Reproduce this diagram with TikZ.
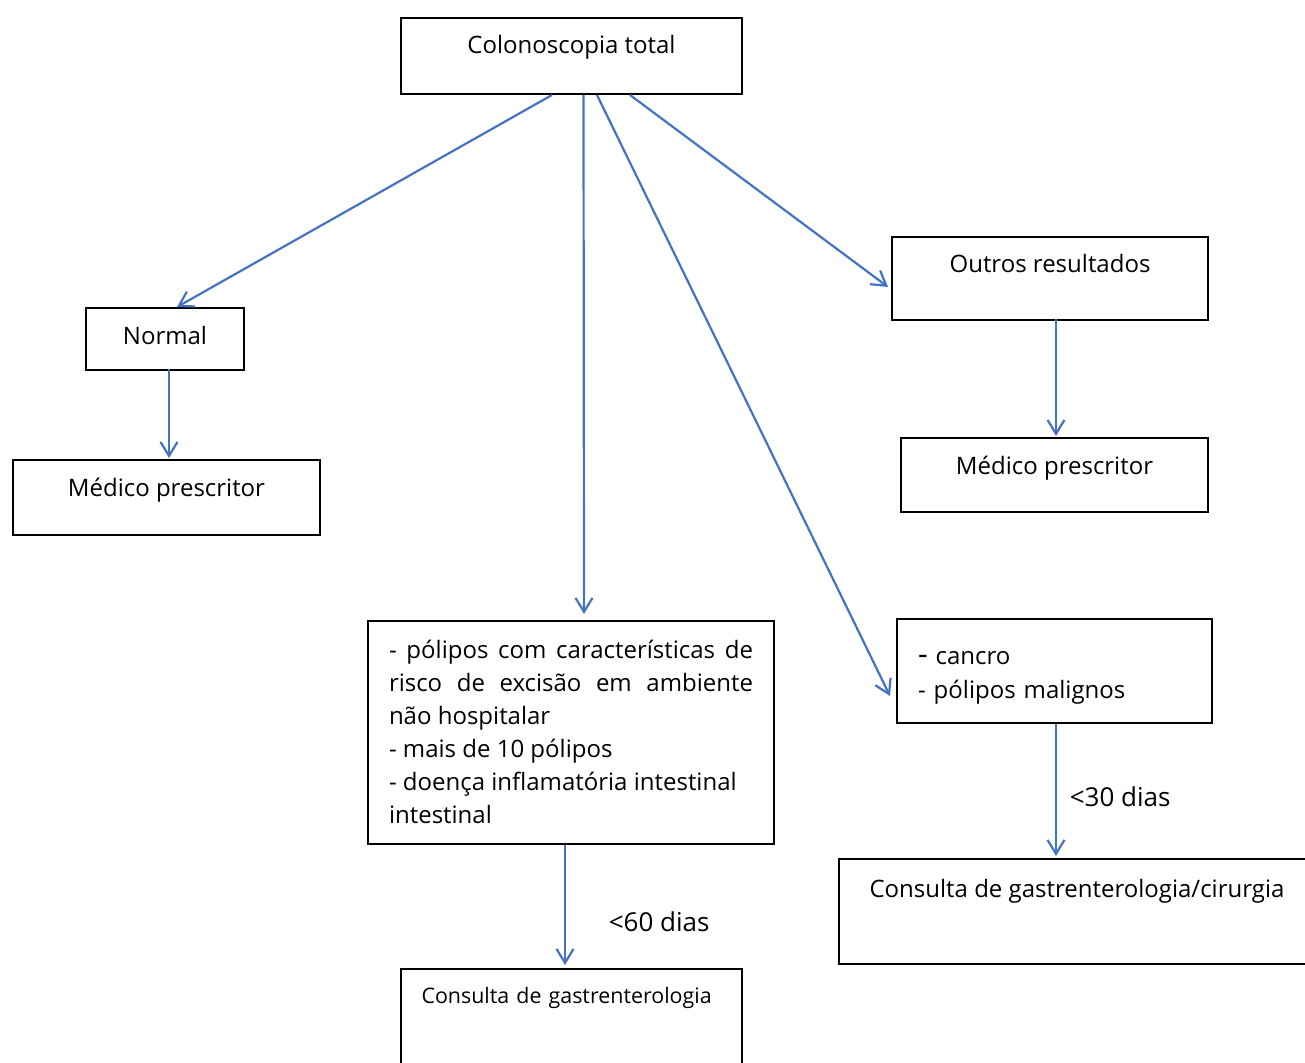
\documentclass[tikz,border=0pt]{standalone}
\usepackage{fontspec}
\setmainfont{Open Sans}
\usetikzlibrary{arrows.meta,calc}
\definecolor{seta}{RGB}{68,114,196}
\hyphenpenalty=10000

\begin{document}
\begin{tikzpicture}[x=0.5pt, y=-0.5pt,
    box/.style={draw, line width=1pt, anchor=north west, inner sep=0pt, font=\fontsize{12}{16.5}\selectfont},
    arr/.style={-{Straight Barb[length=7pt,width=8.5pt]}, seta, line width=1.1pt},
    rotulo/.style={text=black, font=\fontsize{13}{15}\selectfont}
]
\useasboundingbox (0,0) rectangle (1305,1063);

\node[box, minimum width=170.5pt, text height=18pt, text depth=20pt] (colono) at (400,17) {Colonoscopia total};
\node[box, minimum width=79pt, text height=18.5pt, text depth=12.5pt] (normal) at (85,307) {Normal};
\node[box, minimum width=153.5pt, text height=18pt, text depth=19.5pt] (medicoA) at (12,459) {Médico prescritor};
\node[box, minimum width=158pt, text height=18pt, text depth=23.5pt] (outros) at (891,236) {Outros resultados};
\node[box, minimum width=153.5pt, text height=18pt, text depth=19pt] (medicoB) at (900,437) {Médico prescritor};
\node[box, text width=182pt, inner xsep=10.5pt, align=justify, text height=18.5pt, text depth=93pt] (polipos) at (367,620)
    {- pólipos com características de\linebreak risco de excisão em ambiente\linebreak não hospitalar\\
     - mais de 10 pólipos\\
     - doença inflamatória intestinal\\
     intestinal};
\node[box, text width=136.5pt, inner xsep=10.5pt, align=left, font=\fontsize{12}{17}\selectfont, text height=22.5pt, text depth=29.5pt] (cancro) at (896,618)
    {{\fontsize{15}{17}\selectfont -} cancro\\- pólipos malignos};
\node[box, minimum width=238pt, text height=19pt, text depth=33.5pt] (cirurgia) at (838,858) {Consulta de gastrenterologia/cirurgia};
\node[box, text width=150pt, inner xsep=10.25pt, align=left, font=\fontsize{10.7}{13}\selectfont, text height=17pt, text depth=38pt] (gastro) at (400,968) {Consulta de gastrenterologia};

% setas a partir da colonoscopia
\draw[arr] ($(colono.south west)+(152,0)$) -- ($(normal.north)+(12,0)$);
\draw[arr] ($(colono.south west)+(183.5,0)$) -- ($(polipos.north)+(13,-6)$);
\draw[arr] ($(colono.south west)+(197,0)$) -- ($(cancro.west)+(-6,25)$);
\draw[arr] ($(colono.south west)+(230,0)$) -- ($(outros.west)+(-3,8.5)$);

\draw[arr] ($(normal.south)+(4,-2)$) -- ($(medicoA.north)+(2.5,-1)$);
\draw[arr] ($(outros.south)+(6,-2)$) -- ($(medicoB.north)+(1.5,-1)$);
\draw[arr] ($(cancro.south)+(1.5,0)$) -- node[rotulo, right=3pt, pos=0.55] {<30 dias} ($(cirurgia.north)+(-21,-2)$);
\draw[arr] ($(polipos.south)+(-6,0)$) -- node[rotulo, right=18pt, pos=0.64] {<60 dias} ($(gastro.north)+(-6.5,-3)$);
\end{tikzpicture}
\end{document}
